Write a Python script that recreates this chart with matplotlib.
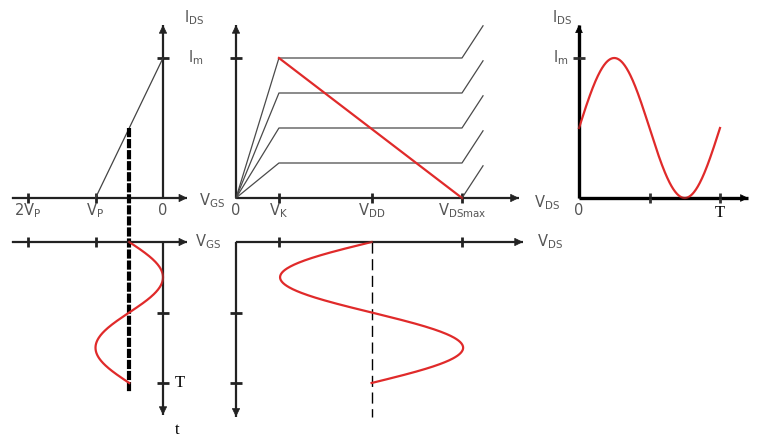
import numpy as np
import matplotlib
matplotlib.use("Agg")
import matplotlib.pyplot as plt
from matplotlib.transforms import Affine2D

# ---------------- data (normalised units) ----------------
vgs_tick_values = [-2.0, -1.0, 0.0]            # in units of |V_P|
vgs_tick_labels = [r'$\mathrm{2V_P}$', r'$\mathrm{V_P}$', '0']
I_m = 1.0
VGS_Q = -0.5
V_K, V_DD, V_DSmax = 0.19, 0.60, 1.00
vds_tick_values = [0.0, V_K, V_DD, V_DSmax]
vds_tick_labels = ['0', r'$\mathrm{V_K}$', r'$\mathrm{V_{DD}}$', r'$\mathrm{V_{DSmax}}$']
curve_currents = [1.0, 0.75, 0.50, 0.25, 0.0]
breakdown_dx, breakdown_dy = 0.093, 0.23
time_ticks = [0.5, 1.0]

# ---------------- canvas ----------------
fig = plt.figure(figsize=(7.71, 4.41), dpi=100)
ax = fig.add_axes([0, 0, 1, 1])
ax.set_xlim(0, 771)
ax.set_ylim(441, 0)
ax.axis('off')

def panel(x0, sx, y0, sy):
    return Affine2D().scale(sx, sy).translate(x0, y0) + ax.transData

TL = panel(163, 67.5, 198, -140)   # transfer characteristic
BL = panel(163, 67.5, 242, 141)    # v_GS(t)
TM = panel(236, 226, 198, -140)    # output characteristics
BM = panel(236, 226, 242, 141)     # v_DS(t)
TR = panel(579, 141, 198, -140)    # i_D(t)

AX_C = '#222222'
RED = '#e02a2a'
LBL = '#555555'

def arrow(T, p0, p1, lw=1.6, color=AX_C, ms=12):
    ax.plot([p0[0], p1[0]], [p0[1], p1[1]], color=color, lw=lw,
            transform=T, solid_capstyle='butt')
    ax.annotate('', xy=p1, xytext=p0, xycoords=T, textcoords=T,
                arrowprops=dict(arrowstyle='-|>,head_length=0.45,head_width=0.22',
                                color=color, lw=0.5,
                                mutation_scale=ms, shrinkA=0, shrinkB=0))

def hticks(T, xs, y, color=AX_C):
    ax.plot(xs, [y] * len(xs), ls='none', marker='|', ms=7, mew=2,
            color=color, transform=T)

def vticks(T, ys, x, color=AX_C):
    ax.plot([x] * len(ys), ys, ls='none', marker='_', ms=8, mew=2,
            color=color, transform=T)

def label(T, x, y, s, size=10.5, **kw):
    ax.text(x, y, s, transform=T, color=LBL, fontsize=size,
            ha='center', va='center', **kw)

# ---------------- top-left: transfer characteristic ----------------
arrow(TL, (-2.24, 0), (0.36, 0))
arrow(TL, (0, 0), (0, 1.236))
hticks(TL, vgs_tick_values[:2], 0)
vticks(TL, [I_m], 0)
ax.plot([-1.0, 0.0], [0.0, I_m], color='#444444', lw=0.9, transform=TL)
for v, s in zip(vgs_tick_values, vgs_tick_labels):
    label(TL, v, -0.09, s)
label(TL, 0.46, 1.29, r'$\mathrm{I_{DS}}$')
label(TL, 0.49, I_m, r'$\mathrm{I_m}$')
label(TL, 0.73, -0.02, r'$\mathrm{V_{GS}}$')

# Q-point dashed line through both left panels
ax.plot([VGS_Q, VGS_Q], [0.5, -1.386], color='black', lw=3.0,
        ls=(0, (2.2, 0.45)), transform=TL)

# ---------------- bottom-left: v_GS(t) ----------------
arrow(BL, (-2.24, 0), (0.36, 0))
arrow(BL, (0, 0), (0, 1.227))
hticks(BL, vgs_tick_values[:2], 0)
vticks(BL, time_ticks, 0)
t = np.linspace(0, 1, 300)
ax.plot(VGS_Q + 0.5 * np.sin(2 * np.pi * t), t, color=RED, lw=1.6, transform=BL)
label(BL, 0.67, 0.0, r'$\mathrm{V_{GS}}$')
ax.text(0.25, 1.0, 'T', transform=BL, fontsize=12, family='Liberation Serif',
        ha='center', va='center', color='black')
ax.text(0.21, 1.33, 't', transform=BL, fontsize=12, family='Liberation Serif',
        ha='center', va='center', color='black')

# ---------------- top-middle: output characteristics ----------------
arrow(TM, (0, 0), (1.252, 0))
arrow(TM, (0, 0), (0, 1.236))
hticks(TM, vds_tick_values[1:], 0)
vticks(TM, [I_m], 0)
for i in curve_currents:
    xs = [0, V_K, V_DSmax, V_DSmax + breakdown_dx]
    ys = [0, i, i, i + breakdown_dy]
    if i == 0:
        xs, ys = xs[2:], ys[2:]
    ax.plot(xs, ys, color='#4a4a4a', lw=0.9, transform=TM)
ax.plot([V_K, V_DSmax], [I_m, 0], color=RED, lw=1.6, transform=TM)
for v, s in zip(vds_tick_values, vds_tick_labels):
    label(TM, v, -0.09, s)

# ---------------- bottom-middle: v_DS(t) ----------------
arrow(BM, (0, 0), (1.27, 0))
arrow(BM, (0, 0), (0, 1.24))
hticks(BM, [V_K, V_DSmax], 0)
vticks(BM, time_ticks, 0)
ax.plot([V_DD, V_DD], [0, 1.24], color='black', lw=1.0, ls=(0, (8, 4)), transform=BM)
A = (V_DSmax - V_K) / 2
ax.plot(V_DD - A * np.sin(2 * np.pi * t), t, color=RED, lw=1.6, transform=BM)
label(BM, 1.39, 0.0, r'$\mathrm{V_{DS}}$')

# ---------------- top-right: i_D(t) ----------------
arrow(TR, (0, 0), (1.2, 0), lw=2.4, color='black', ms=11)
arrow(TR, (0, 0), (0, 1.236), lw=2.4, color='black', ms=11)
hticks(TR, time_ticks, 0, color='#333333')
vticks(TR, [I_m], 0, color='#333333')
ax.plot(t, 0.5 * I_m + 0.5 * I_m * np.sin(2 * np.pi * t), color=RED, lw=1.6, transform=TR)
label(TR, -0.23, -0.03, r'$\mathrm{V_{DS}}$')
label(TR, 0.0, -0.09, '0')
label(TR, -0.12, 1.29, r'$\mathrm{I_{DS}}$')
label(TR, -0.13, I_m, r'$\mathrm{I_m}$')
ax.text(1.0, -0.11, 'T', transform=TR, fontsize=12, family='Liberation Serif',
        ha='center', va='center', color='black')

fig.savefig('out.png', dpi=100, facecolor='white')
